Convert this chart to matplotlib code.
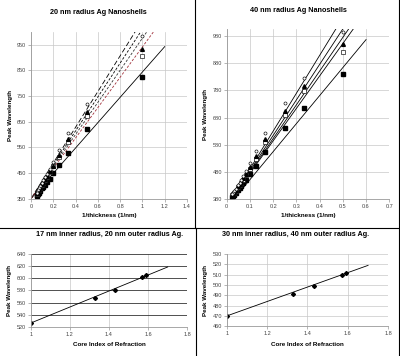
import numpy as np
import matplotlib.pyplot as plt
from matplotlib.lines import Line2D

plt.rcParams['font.family'] = ['Liberation Sans', 'DejaVu Sans']

# 20 nm radius shells: x = 1/thickness
x20 = [1, 0.5, 0.333, 0.25, 0.2, 0.167, 0.143, 0.125, 0.111, 0.1, 0.0833, 0.0714, 0.0625, 0.0556, 0.05]
fsq20 = [822, 620, 529, 481, 449, 428, 414, 404, 396, 390, 381, 374, 369, 365, 362]
osq20 = [905, 671, 569, 513, 476, 452, 434, 421, 411, 403, 392, 384, 378, 373, 369]
tri20 = [934, 686, 581, 519, 478, 458, 440, 427, 416, 408, 396, 387, 380, 375, 371]
circ20 = [982, 717, 605, 538, 494, 467, 448, 433, 421, 412, 399, 390, 383, 377, 373]
fit20_x = [[0, 1.2], [0, 0.935], [0, 0.985], [0, 1.04], [0, 1.10]]
fit20_y = [[350, 942], [350, 1000], [350, 1000], [350, 1000], [350, 1000]]

# 40 nm radius shells
x40 = [0.5, 0.333, 0.25, 0.167, 0.125, 0.1, 0.0833, 0.0714, 0.0625, 0.0556, 0.05, 0.04, 0.0333, 0.0286, 0.025]
fsq40 = [840, 714, 640, 552, 503, 472, 452, 438, 428, 420, 414, 404, 397, 392, 389]
osq40 = [922, 777, 688, 589, 529, 491, 468, 452, 440, 431, 424, 412, 404, 398, 394]
tri40 = [949, 796, 703, 600, 539, 497, 474, 457, 445, 435, 428, 415, 406, 400, 396]
circ40 = [993, 826, 733, 622, 557, 512, 483, 465, 451, 441, 433, 419, 409, 402, 398]
fit40_x = [[0.03, 0.6], [0.02, 0.47], [0.02, 0.50], [0.02, 0.525], [0.02, 0.545]]
fit40_y = [[380, 966], [380, 1005], [380, 1005], [380, 1005], [380, 1005]]

# core index of refraction
n_core = [1.0, 1.33, 1.43, 1.57, 1.59]
peak17 = [526, 567, 581, 602, 605]
peak30 = [470, 491, 499, 510, 512]
fit_n = [1.0, 1.7]
fit17 = [526, 619]
fit30 = [470, 519]

fig = plt.figure(figsize=(4, 3.56), dpi=100)

tick_fs = 4
lab_fs = 4.5
title_fs = 5.2


def style(ax):
    ax.grid(True, color='#c8c8c8', lw=0.5)
    ax.set_axisbelow(True)
    for s in ['top', 'right']:
        ax.spines[s].set_visible(False)
    for s in ['left', 'bottom']:
        ax.spines[s].set_color('#999999')
        ax.spines[s].set_linewidth(0.6)
    ax.tick_params(labelsize=tick_fs, length=2, width=0.5, color='#999999', pad=1.5, labelcolor='#444444')


def markers(ax, x, a, b, c, d):
    ax.plot(x, a, 's', color='black', ms=2.3, ls='none')
    ax.plot(x, b, 's', mfc='white', mec='black', mew=0.45, ms=2.3, ls='none')
    ax.plot(x, c, '^', color='black', ms=2.7, ls='none')
    ax.plot(x, d, 'o', mfc='white', mec='black', mew=0.45, ms=2.2, ls='none')


# top left
ax1 = fig.add_axes([0.0775, 0.4419, 0.39, 0.469])
style(ax1)
styles20 = [('-', 'black'), ((0, (6, 3)), 'black'), ((0, (3, 2)), 'black'), ((0, (3, 2)), '#333333'), ((0, (3, 2)), '#a0303a')]
for fx, fy, (ls, col) in zip(fit20_x, fit20_y, styles20):
    ax1.plot(fx, fy, ls=ls, color=col, lw=0.6)
markers(ax1, x20, fsq20, osq20, tri20, circ20)
ax1.set_xlim(0, 1.4)
ax1.set_ylim(350, 1000)
ax1.set_xticks(np.arange(0, 1.41, 0.2))
ax1.set_xticklabels(['0', '0.2', '0.4', '0.6', '0.8', '1', '1.2', '1.4'])
ax1.set_yticks(np.arange(350, 951, 100))
ax1.set_xlabel('1/thickness (1/nm)', fontsize=lab_fs, fontweight='bold', labelpad=3)
ax1.set_ylabel('Peak Wavelength', fontsize=lab_fs, fontweight='bold', labelpad=3)
fig.text(0.245, 0.965, '20 nm radius Ag Nanoshells', fontsize=title_fs, fontweight='bold', ha='center', va='center')

# top right
ax2 = fig.add_axes([0.5667, 0.4402, 0.4065, 0.4784])
style(ax2)
for fx, fy in zip(fit40_x, fit40_y):
    ax2.plot(fx, fy, '-', color='black', lw=0.6)
markers(ax2, x40, fsq40, osq40, tri40, circ40)
ax2.set_xlim(0, 0.7)
ax2.set_ylim(380, 1005)
ax2.set_xticks(np.arange(0, 0.71, 0.1))
ax2.set_xticklabels(['0', '0.1', '0.2', '0.3', '0.4', '0.5', '0.6', '0.7'])
ax2.set_yticks(np.arange(380, 981, 100))
ax2.set_xlabel('1/thickness (1/nm)', fontsize=lab_fs, fontweight='bold', labelpad=3)
ax2.set_ylabel('Peak Wavelength', fontsize=lab_fs, fontweight='bold', labelpad=3)
fig.text(0.745, 0.97, '40 nm radius Ag Nanoshells', fontsize=title_fs, fontweight='bold', ha='center', va='center')

# bottom left
ax3 = fig.add_axes([0.0767, 0.0823, 0.3915, 0.2034])
style(ax3)
ax3.grid(False)
ax3.grid(True, axis='x', color='#c8c8c8', lw=0.5)
ax3.grid(True, axis='y', color='#333333', lw=0.6)
ax3.plot(fit_n, fit17, '-', color='black', lw=0.6)
ax3.plot(n_core, peak17, 'D', color='black', ms=2.0, ls='none')
ax3.set_xlim(1, 1.8)
ax3.set_ylim(520, 640)
ax3.set_xticks(np.arange(1, 1.81, 0.2))
ax3.set_xticklabels(['1', '1.2', '1.4', '1.6', '1.8'])
ax3.set_yticks(np.arange(520, 641, 20))
ax3.set_xlabel('Core Index of Refraction', fontsize=lab_fs, fontweight='bold', labelpad=4)
ax3.set_ylabel('Peak Wavelength', fontsize=lab_fs, fontweight='bold', labelpad=3)
fig.text(0.275, 0.34, '17 nm inner radius, 20 nm outer radius Ag.', fontsize=title_fs, fontweight='bold', ha='center', va='center')

# bottom right
ax4 = fig.add_axes([0.5667, 0.0834, 0.404, 0.2031])
style(ax4)
ax4.plot(fit_n, fit30, '-', color='black', lw=0.6)
ax4.plot(n_core, peak30, 'D', color='black', ms=2.0, ls='none')
ax4.set_xlim(1, 1.8)
ax4.set_ylim(460, 530)
ax4.set_xticks(np.arange(1, 1.81, 0.2))
ax4.set_xticklabels(['1', '1.2', '1.4', '1.6', '1.8'])
ax4.set_yticks(np.arange(460, 531, 10))
ax4.set_xlabel('Core Index of Refraction', fontsize=lab_fs, fontweight='bold', labelpad=4)
ax4.set_ylabel('Peak Wavelength', fontsize=lab_fs, fontweight='bold', labelpad=3)
fig.text(0.74, 0.34, '30 nm inner radius, 40 nm outer radius Ag.', fontsize=title_fs, fontweight='bold', ha='center', va='center')

# panel borders
H = 356.0
W = 400.0
for (x0, y0, x1, y1) in [(0, 228, 400, 228), (194.5, 0, 194.5, 228), (196, 228, 196, 356),
                         (399, 0, 399, 356)]:
    fig.add_artist(Line2D([x0 / W, x1 / W], [1 - y0 / H, 1 - y1 / H], color='black', lw=0.8))

fig.savefig('out.png', dpi=100)
